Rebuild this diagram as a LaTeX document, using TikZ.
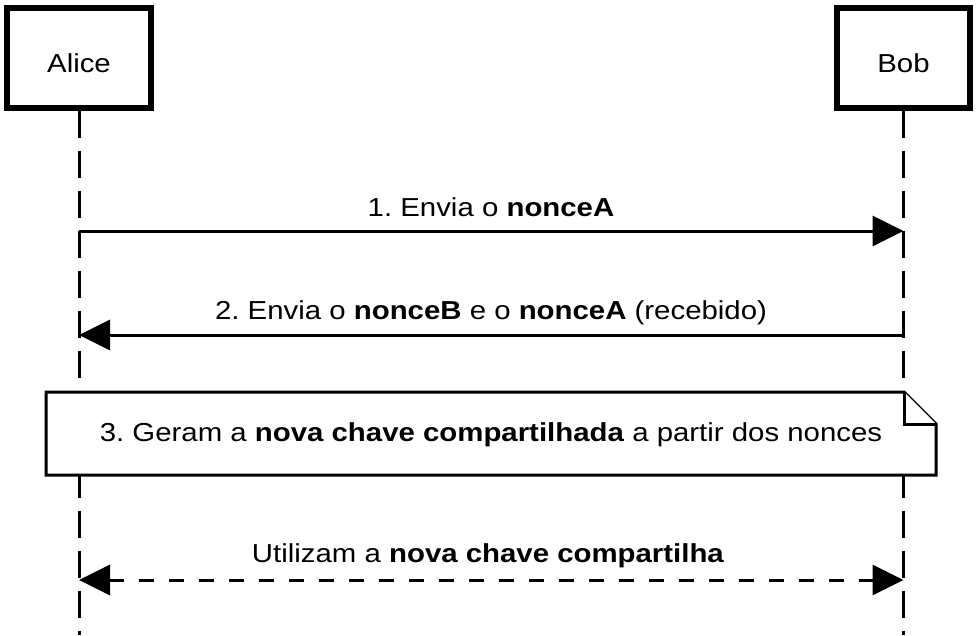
\documentclass[tikz,border=0pt]{standalone}
\usepackage{fontspec}
\setmainfont[FakeStretch=1.13]{Liberation Sans}
\usetikzlibrary{arrows.meta}
\tikzset{
  actorbox/.style={draw, line width=6pt, fill=white, inner sep=0pt, minimum height=100pt},
  lbl/.style={anchor=base, inner sep=0pt, font=\fontsize{26}{31}\selectfont},
  lifeline/.style={line width=3pt, dash pattern=on 27pt off 13pt},
  msg/.style={line width=3pt, -{Triangle[length=31pt,width=30pt]}},
  retmsg/.style={line width=3pt, dash pattern=on 15pt off 15pt, {Triangle[length=31pt,width=30pt]}-{Triangle[length=31pt,width=30pt]}},
  notebox/.style={draw, line width=3pt, fill=white, line join=miter}
}
\begin{document}
\frenchspacing
\begin{tikzpicture}[x=1pt,y=-1pt]
\useasboundingbox (0,0) rectangle (979,635);
% actors
\node[actorbox, minimum width=144pt] (alice) at (79,58) {};
\node[actorbox, minimum width=133pt] (bob) at (903.5,58) {};
\node[lbl] (alicelbl) at (79,72) {Alice};
\node[lbl] (boblbl) at (903.5,72) {Bob};
% lifeline ends and message points
\coordinate (aend) at (79,635);
\coordinate (bend) at (903.5,635);
\coordinate (a1) at (79,231);
\coordinate (b1) at (903.5,231);
\coordinate (a2) at (79,335);
\coordinate (b2) at (903.5,335);
\coordinate (a4) at (79,580);
\coordinate (b4) at (903.5,580);
% lifelines
\draw[lifeline] (alice.south) -- (aend);
\draw[lifeline] (bob.south) -- (bend);
% messages
\draw[msg] (a1) -- (b1);
\node[lbl] (m1) at (491,216) {1. Envia o \textbf{nonceA}};
\draw[msg] (b2) -- (a2);
\node[lbl] (m2) at (491,319) {2. Envia o \textbf{nonceB} e o \textbf{nonceA} (recebido)};
% note
\coordinate (n1) at (46,392);
\coordinate (n2) at (904,392);
\coordinate (n3) at (936,424);
\coordinate (n4) at (936,475);
\coordinate (n5) at (46,475);
\coordinate (nf) at (904,424);
\draw[notebox] (n1) -- (n2) -- (n3) -- (n4) -- (n5) -- cycle;
\draw[notebox] (n2) -- (nf) -- (n3);
\node[lbl] (note) at (491,441) {3. Geram a \textbf{nova chave compartilhada} a partir dos nonces};
% final
\draw[retmsg] (a4) -- (b4);
\node[lbl] (m4) at (488,562) {Utilizam a \textbf{nova chave compartilha}};
\end{tikzpicture}
\end{document}
